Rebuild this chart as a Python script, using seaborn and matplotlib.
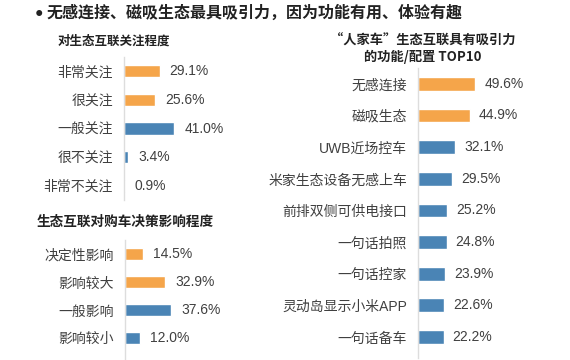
import matplotlib.pyplot as plt
import seaborn as sns

# dados
cats_atencao = ['非常关注', '很关注', '一般关注', '很不关注', '非常不关注']
vals_atencao = [29.1, 25.6, 41.0, 3.4, 0.9]

cats_impacto = ['决定性影响', '影响较大', '一般影响', '影响较小']
vals_impacto = [14.5, 32.9, 37.6, 12.0]

cats_top = ['无感连接', '磁吸生态', 'UWB近场控车', '米家生态设备无感上车', '前排双侧可供电接口',
            '一句话拍照', '一句话控家', '灵动岛显示小米APP', '一句话备车']
vals_top = [49.6, 44.9, 32.1, 29.5, 25.2, 24.8, 23.9, 22.6, 22.2]

n_laranja_atencao = 2
n_laranja_impacto = 2
n_laranja_top = 2

LARANJA = '#F5A54A'
AZUL = '#4A84B5'
TEXTO = '#404040'

sns.set_style('white')
plt.rcParams['font.family'] = ['Liberation Sans', 'Noto Sans CJK SC', 'DejaVu Sans']

fig = plt.figure(figsize=(5.7, 3.6), dpi=100)
W, H = 570, 360


def eixo(left, top, width, bottom):
    return fig.add_axes([left / W, 1 - bottom / H, width / W, (bottom - top) / H])


def barras(ax, cats, vals, n_laranja, altura, ylim_baixo, gap):
    cores = [LARANJA] * n_laranja + [AZUL] * (len(cats) - n_laranja)
    sns.barplot(x=vals, y=cats, hue=cats, palette=cores, legend=False,
                width=altura, ax=ax, saturation=1)
    ax.set_xlim(0, 100)
    ax.set_ylim(ylim_baixo, -0.5)
    for i, v in enumerate(vals):
        ax.text(v + gap, i, f'{v:.1f}%', va='center', ha='left',
                fontsize=10, color=TEXTO)
    ax.set_xticks([])
    ax.set_xlabel('')
    ax.set_ylabel('')
    ax.tick_params(axis='y', length=0, pad=8, labelsize=10, labelcolor=TEXTO)
    for s in ['top', 'right', 'bottom']:
        ax.spines[s].set_visible(False)
    ax.spines['left'].set_color('#dddddd')
    ax.spines['left'].set_linewidth(1)
    ax.patch.set_alpha(0)


ax1 = eixo(124, 57, 123, 200)
barras(ax1, cats_atencao, vals_atencao, n_laranja_atencao, 0.42, 4.5, 8)

ax2 = eixo(125, 240, 123, 360)
barras(ax2, cats_impacto, vals_impacto, n_laranja_impacto, 0.44, 3.79, 8)

ax3 = eixo(418, 68, 115, 358)
barras(ax3, cats_top, vals_top, n_laranja_top, 0.44, 8.66, 8)

# títulos
fig.text(35 / W, 1 - 13 / H, '●', fontsize=10, color='#222222', va='center', ha='left')
fig.text(47 / W, 1 - 13 / H, '无感连接、磁吸生态最具吸引力，因为功能有用、体验有趣',
         fontsize=11.5, fontweight='bold', color='#222222', va='center', ha='left')
fig.text(114 / W, 1 - 42 / H, '对生态互联关注程度', fontsize=9, fontweight='bold',
         color='#222222', va='center', ha='center')
fig.text(125 / W, 1 - 222 / H, '生态互联对购车决策影响程度', fontsize=9.8, fontweight='bold',
         color='#222222', va='center', ha='center')
fig.text(423 / W, 1 - 49 / H, '“人家车”生态互联具有吸引力\n的功能/配置 TOP10', fontsize=9.5,
         fontweight='bold', color='#222222', va='center', ha='center', linespacing=1.2,
         family=['Noto Sans CJK SC', 'DejaVu Sans'])

plt.savefig('out.png', dpi=100)
